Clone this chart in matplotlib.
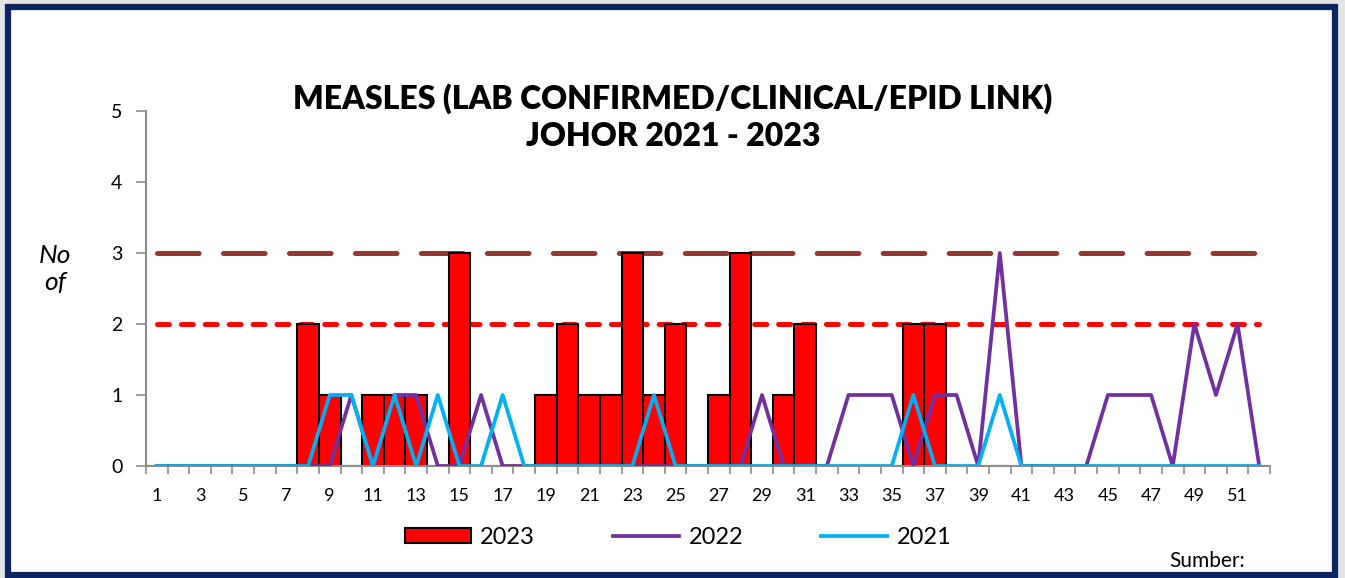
import matplotlib
matplotlib.use("Agg")
import matplotlib.pyplot as plt
from matplotlib.patches import Rectangle, Patch
from matplotlib.lines import Line2D
import numpy as np

plt.rcParams['font.family'] = ['Lato', 'DejaVu Sans']
plt.rcParams['lines.scale_dashes'] = False

weeks = list(range(1, 53))

# kes 2023 (bar)
cases_2023 = [0, 0, 0, 0, 0, 0, 0, 2, 1, 0,
              1, 1, 1, 0, 3, 0, 0, 0, 1, 2,
              1, 1, 3, 1, 2, 0, 1, 3, 0, 1,
              2, 0, 0, 0, 0, 2, 2, 0, 0, 0,
              0, 0, 0, 0, 0, 0, 0, 0, 0, 0,
              0, 0]

# kes 2022
cases_2022 = [0, 0, 0, 0, 0, 0, 0, 0, 0, 1,
              0, 1, 1, 0, 0, 1, 0, 0, 0, 0,
              0, 0, 0, 0, 0, 0, 0, 0, 1, 0,
              0, 0, 1, 1, 1, 0, 1, 1, 0, 3,
              0, 0, 0, 0, 1, 1, 1, 0, 2, 1,
              2, 0]

# kes 2021
cases_2021 = [0, 0, 0, 0, 0, 0, 0, 0, 1, 1,
              0, 1, 0, 1, 0, 0, 1, 0, 0, 0,
              0, 0, 0, 1, 0, 0, 0, 0, 0, 0,
              0, 0, 0, 0, 0, 1, 0, 0, 0, 1,
              0, 0, 0, 0, 0, 0, 0, 0, 0, 0,
              0, 0]

alert_level = [3] * 52
warning_level = [2] * 52

title_text = "MEASLES (LAB CONFIRMED/CLINICAL/EPID LINK)\nJOHOR 2021 - 2023"

fig = plt.figure(figsize=(13.45, 5.78), dpi=100)
fig.patch.set_facecolor('#e4e4e4')

# bingkai biru gelap
frame = Rectangle((8 / 1345, 3 / 578), 1327 / 1345, 568 / 578, transform=fig.transFigure,
                  facecolor='white', edgecolor='#0d2463', linewidth=4.5, zorder=-5)
fig.patches.append(frame)

ax = fig.add_axes([146 / 1345, 112 / 578, 1124 / 1345, 355 / 578])
ax.set_facecolor('none')

ax.bar(weeks, cases_2023, width=1.0, color='#ff0000', edgecolor='black', linewidth=1.5, zorder=2)

ax.plot(weeks, alert_level, color='#953735', linewidth=3.6, dash_capstyle='round',
        dashes=(30, 17.5), zorder=1)
ax.plot(weeks, warning_level, color='#ff0000', linewidth=3.6, dash_capstyle='round',
        dashes=(8.6, 8.6), zorder=1)

ax.plot(weeks, cases_2022, color='#7030a0', linewidth=2.7, zorder=3)
ax.plot(weeks, cases_2021, color='#00b0f0', linewidth=2.7, zorder=4)

ax.set_xlim(0.5, 52.5)
ax.set_ylim(0, 5)
ax.set_yticks(range(0, 6))
ax.set_xticks(range(1, 53, 2))
ax.set_xticks(np.arange(0.5, 53, 1), minor=True)
ax.tick_params(axis='x', which='major', length=0, labelsize=13, pad=16)
ax.tick_params(axis='x', which='minor', length=6, width=1.2, color='#8c8c8c', direction='out')
ax.tick_params(axis='y', length=7, width=1.2, color='#8c8c8c', labelsize=14, pad=10)

for s in ['top', 'right']:
    ax.spines[s].set_visible(False)
for s in ['left', 'bottom']:
    ax.spines[s].set_color('#8c8c8c')
    ax.spines[s].set_linewidth(1.5)

fig.text(673 / 1345, 1 - 117 / 578, title_text, ha='center', va='center',
         fontsize=23, fontweight='heavy', linespacing=1.3)

fig.text(55 / 1345, 1 - 269 / 578, "No\nof", ha='center', va='center',
         fontsize=19, style='italic', linespacing=1.2)

handles = [Patch(facecolor='#ff0000', edgecolor='black', linewidth=1.5, label='2023'),
           Line2D([0], [0], color='#7030a0', linewidth=2.7, label='2022'),
           Line2D([0], [0], color='#00b0f0', linewidth=2.7, label='2021')]
fig.legend(handles=handles, loc='center', bbox_to_anchor=(678 / 1345, 1 - 537 / 578),
           ncol=3, frameon=False, fontsize=17, handlelength=2.8, handleheight=0.6,
           columnspacing=3.3, handletextpad=0.4)

fig.text(1245 / 1345, 1 - 561 / 578, "Sumber:", ha='right', va='center', fontsize=15)

fig.savefig('out.png', dpi=100, facecolor=fig.get_facecolor())
